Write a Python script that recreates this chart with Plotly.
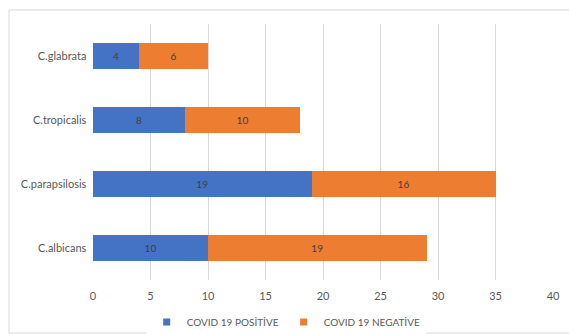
import plotly.graph_objects as go

categories = ["C.albicans", "C.parapsilosis", "C.tropicalis", "C.glabrata"]
positive = [10, 19, 8, 4]
negative = [19, 16, 10, 6]
x_ticks = [0, 5, 10, 15, 20, 25, 30, 35, 40]
series_names = ["COVID 19 POSİTİVE", "COVID 19 NEGATİVE"]
colors = ["#4472C4", "#ED7D31"]

fig = go.Figure()
for vals, name, col in zip([positive, negative], series_names, colors):
    fig.add_trace(go.Bar(
        y=categories, x=vals, orientation="h", name=name, showlegend=False,
        marker=dict(color=col, line=dict(width=0)),
        text=vals, textposition="inside", insidetextanchor="middle",
        textfont=dict(color="#404040", size=10),
    ))
# legend entries with small square symbols
for name, col in zip(series_names, colors):
    fig.add_trace(go.Scatter(
        x=[None], y=[None], mode="markers", name=name,
        marker=dict(symbol="square", size=7, color=col),
    ))

fig.update_layout(
    barmode="stack",
    bargap=0.6,
    width=569, height=335,
    margin=dict(l=93, r=16, t=24, b=55, autoexpand=False),
    paper_bgcolor="white", plot_bgcolor="white",
    font=dict(family="Lato, Open Sans, sans-serif", size=11, color="#595959"),
    xaxis=dict(range=[0, 40], tickvals=x_ticks, showgrid=True, gridcolor="#D9D9D9",
               gridwidth=1, zeroline=False, showline=False, ticks="",
               ticklabelstandoff=8,
               tickfont=dict(size=11, color="#595959")),
    yaxis=dict(showgrid=False, zeroline=False, showline=False, ticks="",
               ticksuffix="  ", tickfont=dict(size=11, color="#595959")),
    legend=dict(orientation="h", x=0.42, xanchor="center", y=-0.164, yanchor="middle",
                font=dict(size=10, color="#595959"), traceorder="normal",
                itemwidth=30, tracegroupgap=0),
    shapes=[dict(type="rect", xref="paper", yref="paper",
                 x0=-0.1826, x1=1.08, y0=-0.207, y1=1.0547,
                 line=dict(color="#D9D9D9", width=1), fillcolor="rgba(0,0,0,0)", layer="below")],
)

fig.write_html("out.html")
